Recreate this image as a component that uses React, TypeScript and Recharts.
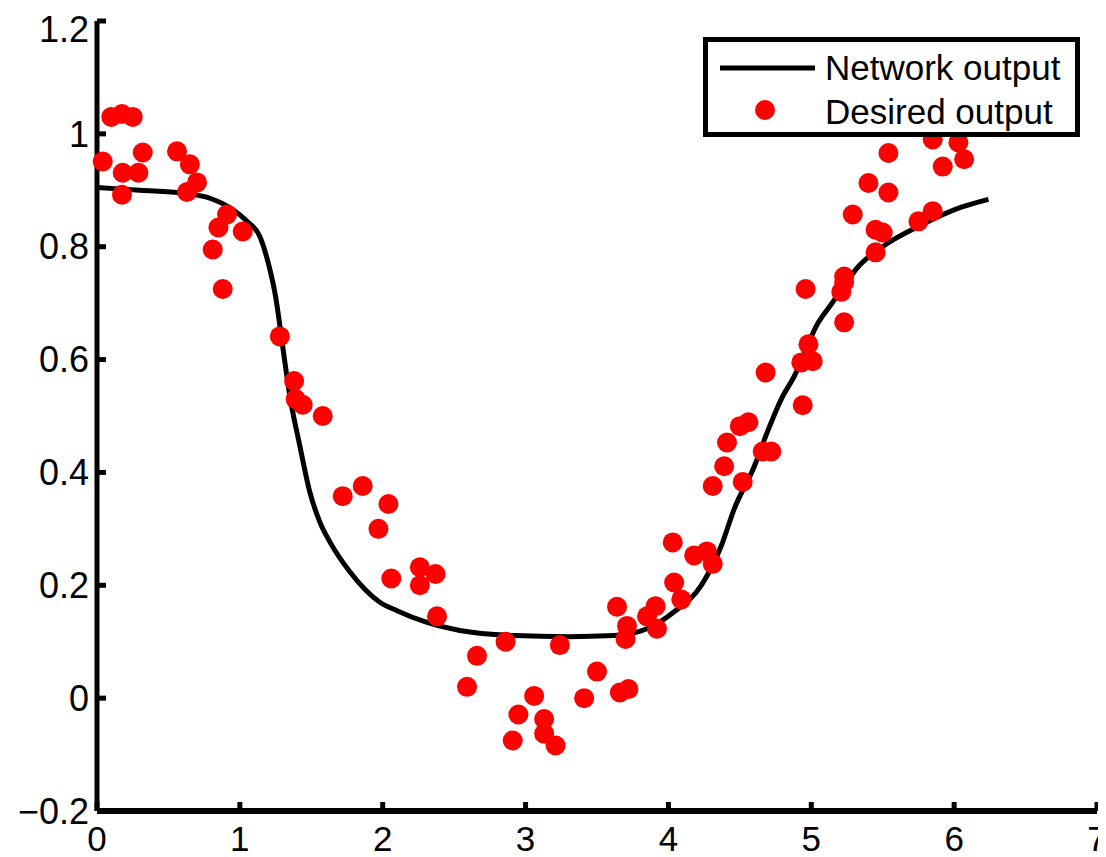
import { ComposedChart, Legend, Line, Scatter, XAxis, YAxis } from "recharts";

// network output curve
const curveX = [
  0, 0.3, 0.6, 0.8, 0.95, 1.05, 1.14, 1.2, 1.25, 1.3, 1.35, 1.42, 1.49, 1.56, 1.63, 1.77, 1.98, 2.1,
  2.3, 2.54, 2.92, 3.3, 3.62, 3.85, 4.04, 4.23, 4.37, 4.46, 4.6, 4.69, 4.79, 4.88, 5.05, 5.14, 5.33,
  5.54, 5.75, 6.05, 6.24,
];
const curveY = [
  0.905, 0.9, 0.895, 0.885, 0.866, 0.845, 0.818, 0.77, 0.712, 0.623, 0.535, 0.447, 0.365, 0.312, 0.277,
  0.224, 0.17, 0.155, 0.135, 0.12, 0.111, 0.109, 0.111, 0.123, 0.153, 0.2, 0.27, 0.335, 0.41, 0.47, 0.53,
  0.57, 0.666, 0.698, 0.765, 0.807, 0.836, 0.87, 0.884,
];

// desired output samples
const desiredX = [
  0.04, 0.1, 0.175, 0.25, 0.32, 0.18, 0.29, 0.175, 0.56, 0.65, 0.7, 0.63, 0.91, 0.85, 1.02, 0.81, 0.88,
  1.28, 1.38, 1.39, 1.44, 1.58, 1.72, 1.86, 2.04, 1.97, 2.06, 2.26, 2.37, 2.26, 2.38, 2.66, 2.59, 2.86,
  3.24, 2.91, 3.06, 2.95, 3.13, 3.13, 3.21, 3.41, 3.5, 3.66, 3.72, 3.64, 3.71, 3.7, 3.91, 3.85, 3.92,
  4.03, 4.04, 4.09, 4.18, 4.27, 4.31, 4.31, 4.52, 4.39, 4.41, 4.5, 4.56, 4.66, 4.72, 4.68, 4.94, 4.93,
  5.01, 4.98, 4.96, 5.21, 5.23, 5.23, 5.23, 5.29, 5.4, 5.45, 5.5, 5.45, 5.54, 5.54, 5.75, 5.85, 5.85,
  6.03, 5.92, 6.07,
];
const desiredY = [
  0.951, 1.03, 1.035, 1.03, 0.967, 0.931, 0.931, 0.892, 0.969, 0.946, 0.914, 0.897, 0.857, 0.834, 0.827,
  0.795, 0.725, 0.641, 0.562, 0.53, 0.52, 0.5, 0.358, 0.376, 0.344, 0.3, 0.212, 0.232, 0.22, 0.2, 0.145,
  0.075, 0.02, 0.1, 0.094, -0.075, 0.004, -0.029, -0.037, -0.063, -0.084, 0.0, 0.047, 0.01, 0.016, 0.162,
  0.128, 0.105, 0.163, 0.145, 0.123, 0.276, 0.205, 0.175, 0.253, 0.26, 0.238, 0.376, 0.383, 0.411, 0.453,
  0.482, 0.489, 0.437, 0.437, 0.577, 0.519, 0.595, 0.597, 0.627, 0.725, 0.72, 0.737, 0.666, 0.747, 0.857,
  0.913, 0.83, 0.825, 0.79, 0.966, 0.896, 0.845, 0.863, 0.99, 0.985, 0.942, 0.955,
];

const xTicks = [0, 1, 2, 3, 4, 5, 6, 7];
const yTicks = [-0.2, 0, 0.2, 0.4, 0.6, 0.8, 1, 1.2];

const curve = curveX.map((x, i) => ({ x, y: curveY[i] }));
const desired = desiredX.map((x, i) => ({ x, y: desiredY[i] }));

const FONT = "'Liberation Sans', Arial, sans-serif";

const fmt = (v: number) => (v < 0 ? "\u2212" + String(Math.abs(v)) : String(v));

const Dot = (props: any) => <circle cx={props.cx} cy={props.cy} r={10} fill="#ff0000" />;

function LegendBox() {
  return (
    <div style={{ width: 377, height: 100, border: "5px solid #000", boxSizing: "border-box", background: "#fff" }}>
      <svg width={367} height={90} style={{ display: "block" }}>
        <line x1={12} y1={26} x2={107} y2={26} stroke="#000" strokeWidth={5} />
        <circle cx={57} cy={68} r={10} fill="#ff0000" />
        <text x={117} y={38} fontSize={35} fontFamily={FONT} fill="#000">
          Network output
        </text>
        <text x={117} y={82} fontSize={35} fontFamily={FONT} fill="#000">
          Desired output
        </text>
      </svg>
    </div>
  );
}

export default function App() {
  return (
    <ComposedChart width={1098} height={849} margin={{ top: 13, right: 9, bottom: 0, left: 0 }}>
      <XAxis
        dataKey="x"
        type="number"
        domain={[0, 7]}
        ticks={xTicks}
        height={46}
        axisLine={{ stroke: "#000", strokeWidth: 6 }}
        tickLine={{ stroke: "#000", strokeWidth: 5 }}
        tickSize={-9}
        tickMargin={24}
        tick={{ fill: "#000", fontSize: 35, fontFamily: FONT }}
      />
      <YAxis
        dataKey="y"
        type="number"
        domain={[-0.2, 1.2]}
        ticks={yTicks}
        width={89}
        axisLine={{ stroke: "#000", strokeWidth: 5 }}
        tickLine={{ stroke: "#000", strokeWidth: 5 }}
        tickSize={-9}
        tickMargin={17}
        tickFormatter={fmt}
        tick={{ fill: "#000", fontSize: 36, fontFamily: FONT }}
      />
      <Line
        data={curve}
        dataKey="y"
        type="monotone"
        stroke="#000"
        strokeWidth={5}
        dot={false}
        isAnimationActive={false}
      />
      <Scatter data={desired} dataKey="y" shape={Dot} isAnimationActive={false} />
      <Legend
        layout="horizontal"
        verticalAlign="middle"
        align="center"
        content={() => <LegendBox />}
        wrapperStyle={{ top: 29, left: 695, width: 377, height: 100 }}
      />
    </ComposedChart>
  );
}
